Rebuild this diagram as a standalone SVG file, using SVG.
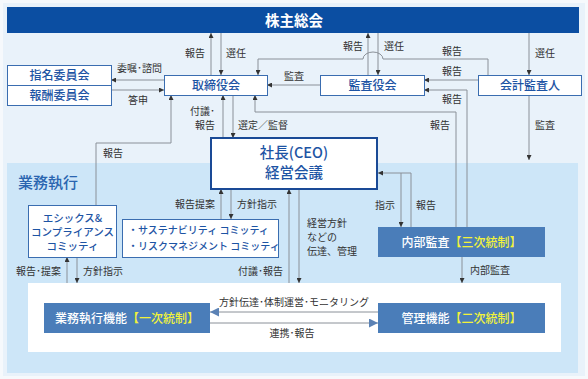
<svg xmlns="http://www.w3.org/2000/svg" width="588" height="379" viewBox="0 0 588 379">
<defs>
<marker id="ah" viewBox="0 0 6 6" refX="6" refY="3" markerWidth="5" markerHeight="5" orient="auto" markerUnits="userSpaceOnUse">
<path d="M0,0 L6,3 L0,6 z" fill="#333"/>
</marker>
<marker id="ahb" viewBox="0 0 10 10" refX="10" refY="5" markerWidth="10" markerHeight="9" orient="auto" markerUnits="userSpaceOnUse">
<path d="M0,0 L10,5 L0,10 z" fill="#5b82b5"/>
</marker>
<style>
text{font-family:"Noto Sans CJK JP","Noto Sans",sans-serif}
.lbl{font-size:10px;fill:#333}
.nd{fill:#fff;stroke:#3a6db0;stroke-width:1}
.nt{font-size:12px;fill:#1d54a4;font-weight:500;text-anchor:middle}
.st{font-size:10.5px;fill:#1d54a4;font-weight:500;text-anchor:middle}
.ct{font-size:10px;fill:#1d54a4;font-weight:500}
.fb{fill:#4a7db9}
.ft{font-size:12px;fill:#fff;font-weight:500;text-anchor:middle}
.y{fill:#f2f23a}
.c{fill:none;stroke:#8a9098;stroke-width:1}
.a{marker-end:url(#ah)}
</style>
</defs>
<rect x="0" y="0" width="588" height="379" fill="#f6f9fc"/>
<rect x="3" y="3" width="582" height="373" fill="#e9f2fa"/>
<rect x="7" y="163" width="571" height="210" fill="#cde6f8"/>
<rect x="28" y="283" width="533" height="69" fill="#fff"/>
<text x="18" y="188" font-size="15" fill="#2a65b0" font-weight="500">業務執行</text>

<g id="connectors">
<path class="c a" d="M211,75 V33"/>
<path class="c a" d="M221,33 V75"/>
<path class="c a" d="M368,75 V33"/>
<path class="c a" d="M378,33 V75"/>
<path class="c a" d="M529,33 V75"/>
<path class="c a" d="M478,80 H424"/>
<path class="c a" d="M488,75 V59 H383 A10,7 0 0 0 363,59 H258 V75"/>
<path class="c a" d="M320,85 H267"/>
<path class="c a" d="M467,227 V90 H424"/>
<path class="c a" d="M456,227 V112 H255 V95"/>
<path class="c a" d="M529,95 V160"/>
<path class="c a" d="M164,80 H111"/>
<path class="c a" d="M111,90 H164"/>
<path class="c a" d="M223,138 V95"/>
<path class="c a" d="M233,95 V138"/>
<path class="c a" d="M96,205 V143 H171 V95"/>
<path class="c a" d="M221,219 V189"/>
<path class="c a" d="M231,189 V219"/>
<path class="c a" d="M289,283 V189"/>
<path class="c a" d="M299,189 V283"/>
<path class="c a" d="M411,227 V173 H378"/>
<path class="c a" d="M401,173 V227"/>
<path class="c a" d="M67,283 V257"/>
<path class="c a" d="M77,257 V283"/>
<path class="c a" d="M462,257 V283"/>
<path class="c" d="M378,312 H210" marker-end="url(#ahb)"/>
<path class="c" d="M210,323 H378" marker-end="url(#ahb)"/>
</g>

<g id="labels">
<text class="lbl" x="205" y="57" text-anchor="end">報告</text>
<text class="lbl" x="226" y="57">選任</text>
<text class="lbl" x="363" y="50" text-anchor="end">報告</text>
<text class="lbl" x="384" y="50">選任</text>
<text class="lbl" x="452" y="55" text-anchor="middle">報告</text>
<text class="lbl" x="535" y="57">選任</text>
<text class="lbl" x="452" y="75" text-anchor="middle">報告</text>
<text class="lbl" x="452" y="103" text-anchor="middle">報告</text>
<text class="lbl" x="440" y="129" text-anchor="middle">報告</text>
<text class="lbl" x="535" y="129">監査</text>
<text class="lbl" x="294" y="80" text-anchor="middle">監査</text>
<text class="lbl" x="117" y="72">委嘱･諮問</text>
<text class="lbl" x="138" y="104" text-anchor="middle">答申</text>
<text class="lbl" x="215" y="115" text-anchor="end">付議･</text>
<text class="lbl" x="215" y="129" text-anchor="end">報告</text>
<text class="lbl" x="238" y="129">選定／監督</text>
<text class="lbl" x="103" y="157">報告</text>
<text class="lbl" x="215" y="208" text-anchor="end">報告提案</text>
<text class="lbl" x="237" y="208">方針指示</text>
<text class="lbl" x="307" y="227">経営方針</text>
<text class="lbl" x="307" y="241">などの</text>
<text class="lbl" x="307" y="255">伝達、管理</text>
<text class="lbl" x="283" y="275" text-anchor="end">付議･報告</text>
<text class="lbl" x="375" y="209">指示</text>
<text class="lbl" x="416" y="209">報告</text>
<text class="lbl" x="61" y="275" text-anchor="end">報告･提案</text>
<text class="lbl" x="83" y="275">方針指示</text>
<text class="lbl" x="470" y="274">内部監査</text>
<text class="lbl" x="294" y="306" text-anchor="middle">方針伝達･体制運営･モニタリング</text>
<text class="lbl" x="292" y="337" text-anchor="middle">連携･報告</text>
</g>

<g id="n-shareholders">
<rect x="7" y="7" width="572" height="26" fill="#0b4ea2"/>
<text x="294" y="25.5" font-size="14.5" fill="#fff" font-weight="700" text-anchor="middle">株主総会</text>
</g>
<g id="n-nomination">
<rect class="nd" x="7.5" y="65.5" width="104" height="20"/>
<text class="nt" x="59.5" y="80">指名委員会</text>
</g>
<g id="n-remuneration">
<rect class="nd" x="7.5" y="85.5" width="104" height="20"/>
<text class="nt" x="59.5" y="100">報酬委員会</text>
</g>
<g id="n-board">
<rect class="nd" x="164.5" y="75.5" width="103" height="20"/>
<text class="nt" x="216" y="90">取締役会</text>
</g>
<g id="n-auditboard">
<rect class="nd" x="320.5" y="75.5" width="104" height="20"/>
<text class="nt" x="372.5" y="90">監査役会</text>
</g>
<g id="n-accountant">
<rect class="nd" x="478.5" y="75.5" width="103" height="20"/>
<text class="nt" x="530" y="90">会計監査人</text>
</g>
<g id="n-ceo">
<rect x="211" y="138" width="166" height="51" fill="#fff" stroke="#1a4a96" stroke-width="2"/>
<text x="294" y="158" font-size="14.5" fill="#1d54a4" font-weight="500" text-anchor="middle">社長(CEO)</text>
<text x="294" y="178" font-size="14.5" fill="#1d54a4" font-weight="500" text-anchor="middle">経営会議</text>
</g>
<g id="n-ethics">
<rect class="nd" x="28.5" y="205.5" width="88" height="52"/>
<text class="st" x="72.5" y="222">エシックス&amp;</text>
<text class="st" x="72.5" y="236">コンプライアンス</text>
<text class="st" x="72.5" y="250">コミッティ</text>
</g>
<g id="n-committees">
<rect class="nd" x="122.5" y="219.5" width="156" height="38"/>
<text class="ct" x="128" y="234">・サステナビリティ コミッティ</text>
<text class="ct" x="128" y="250">・リスクマネジメント コミッティ</text>
</g>
<g id="n-internalaudit">
<rect class="fb" x="378" y="227" width="167" height="30"/>
<text class="ft" x="461.5" y="246.5">内部監査<tspan class="y">【三次統制】</tspan></text>
</g>
<g id="n-execution">
<rect class="fb" x="44" y="303" width="166" height="30"/>
<text class="ft" x="127" y="322.5">業務執行機能<tspan class="y">【一次統制】</tspan></text>
</g>
<g id="n-management">
<rect class="fb" x="378" y="303" width="167" height="30"/>
<text class="ft" x="461.5" y="322.5">管理機能<tspan class="y">【二次統制】</tspan></text>
</g>
</svg>
